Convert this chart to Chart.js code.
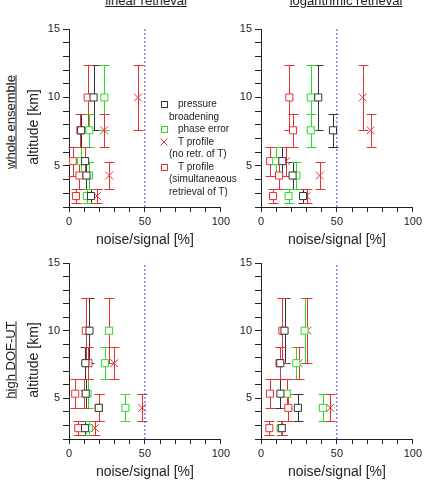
<!DOCTYPE html>
<html>
<head>
<meta charset="utf-8">
<script src="https://cdn.jsdelivr.net/npm/chart.js@4"></script>
<style>
  html, body { margin:0; padding:0; background:#fff; }
  body { width:431px; height:485px; position:relative; overflow:hidden;
         font-family:'Liberation Sans', Arial, sans-serif; color:#222; }
  canvas { position:absolute; }
  .t { position:absolute; white-space:nowrap; }
  .rot { position:absolute; white-space:nowrap; transform:translate(-50%,-50%) rotate(-90deg); }
  .u { text-decoration:underline; }
  .lg { position:absolute; font-size:10px; line-height:12px; white-space:nowrap; color:#222; }
  .mk { position:absolute; }
</style>
</head>
<body>
<canvas id="tl" width="209" height="234" style="left:24px;top:19px"></canvas>
<canvas id="tr" width="209" height="234" style="left:216px;top:19px"></canvas>
<canvas id="bl" width="209" height="232" style="left:24px;top:253px"></canvas>
<canvas id="br" width="209" height="232" style="left:216px;top:253px"></canvas>

<div class="t u" style="left:146px;top:-6px;font-size:13px;line-height:13px;transform:translateX(-50%)">linear retrieval</div>
<div class="t u" style="left:346px;top:-6px;font-size:13px;line-height:13px;transform:translateX(-50%)">logarithmic retrieval</div>

<div class="rot u" style="left:10px;top:122px;font-size:13px">whole ensemble</div>
<div class="rot" style="left:33px;top:127px;font-size:14px">altitude [km]</div>
<div class="rot u" style="left:10px;top:360px;font-size:13px">high DOF-UT</div>
<div class="rot" style="left:33px;top:360px;font-size:14px">altitude [km]</div>

<!-- legend -->
<svg class="mk" style="left:160px;top:100px" width="9" height="9"><rect x="1.5" y="1.5" width="6" height="6" fill="#fff" stroke="#333" stroke-width="1"/></svg>
<div class="lg" style="left:178px;top:98px">pressure</div>
<div class="lg" style="left:169px;top:111px">broadening</div>
<svg class="mk" style="left:160px;top:125px" width="9" height="9"><rect x="1.5" y="1.5" width="6" height="6" fill="#fff" stroke="rgb(40,220,40)" stroke-width="1"/></svg>
<div class="lg" style="left:178px;top:123px">phase error</div>
<svg class="mk" style="left:159px;top:137px" width="10" height="10"><path d="M1.5 1.5 L8.5 8.5 M8.5 1.5 L1.5 8.5" stroke="rgb(232,48,48)" stroke-width="1"/></svg>
<div class="lg" style="left:178px;top:136px">T profile</div>
<div class="lg" style="left:169px;top:148px">(no retr. of T)</div>
<svg class="mk" style="left:160px;top:163px" width="9" height="9"><rect x="1.5" y="1.5" width="6" height="6" fill="#fff" stroke="rgb(232,48,48)" stroke-width="1"/></svg>
<div class="lg" style="left:178px;top:161px">T profile</div>
<div class="lg" style="left:169px;top:173px">(simultaneaous</div>
<div class="lg" style="left:169px;top:186px">retrieval of T)</div>

<script>
// ---- data ----
const altitudes = [10, 7.6, 5.35, 4.3, 2.8];          // km, level centres
const altLow    = [7.6, 6.4, 4.3, 3.3, 2.3];          // lower end of vertical range
const altHigh   = [12.4, 8.8, 6.4, 5.3, 3.3];         // upper end of vertical range
const xTickLabels = [0, 50, 100];
const yTickLabels = [5, 10, 15];
const limitValue = 50;

// linear retrieval, whole ensemble
const linWholePressure = [16.2, 8.0, 10.6, 11.5, 14.5];
const linWholePhase    = [23.3, 13.4, 8.0, 13.2, 11.7];
const linWholeTnoRetr  = [45.4, 23.1, 10.4, 26.5, 18.4];
const linWholeTsimul   = [12.3, 7.5, 2.5, 6.9, 4.6];
// logarithmic retrieval, whole ensemble
const logWholePressure = [37.7, 47.4, 14.0, 20.8, 27.7];
const logWholePhase    = [32.8, 32.8, 10.0, 23.3, 18.2];
const logWholeTnoRetr  = [67.0, 72.2, 16.6, 38.7, 30.1];
const logWholeTsimul   = [18.7, 21.1, 6.0, 11.9, 7.9];
// linear retrieval, high DOF-UT
const linHighPressure = [13.5, 10.8, 11.0, 19.6, 10.6];
const linHighPhase    = [26.3, 23.7, 12.2, 37.2, 13.1];
const linHighTnoRetr  = [26.3, 29.8, 10.0, 48.2, 17.1];
const linHighTsimul   = [11.0, 12.8, 4.1, 19.6, 6.1];
// logarithmic retrieval, high DOF-UT
const logHighPressure = [15.5, 12.7, 12.8, 24.3, 13.7];
const logHighPhase    = [28.7, 23.3, 16.9, 40.8, 12.9];
const logHighTnoRetr  = [30.6, 24.7, 17.4, 45.6, 13.8];
const logHighTsimul   = [14.1, 12.2, 5.9, 18.0, 5.5];

// ---- styles ----
const BLACK = '#333333';
const GREEN = 'rgb(40,220,40)';
const RED   = 'rgb(232,48,48)';
const BLUE  = 'rgb(60,60,225)';
const AXIS  = '#222222';
Chart.defaults.font.family = "'Liberation Sans', Arial, sans-serif";
Chart.defaults.color = '#222';

const errorBars = {
  id: 'errorBars',
  beforeDatasetsDraw(chart) {
    const ctx = chart.ctx, xs = chart.scales.x, ys = chart.scales.y;
    chart.data.datasets.forEach(ds => {
      if (!ds.low) return;
      ctx.save();
      ctx.strokeStyle = ds.borderColor;
      ctx.lineWidth = 1;
      ds.data.forEach((p, i) => {
        const px = Math.round(xs.getPixelForValue(p.x)) + 0.5;
        const y1 = Math.round(ys.getPixelForValue(ds.low[i])) + 0.5;
        const y2 = Math.round(ys.getPixelForValue(ds.high[i])) + 0.5;
        ctx.beginPath();
        ctx.moveTo(px, y1); ctx.lineTo(px, y2);
        ctx.moveTo(px - 5, y1); ctx.lineTo(px + 5, y1);
        ctx.moveTo(px - 5, y2); ctx.lineTo(px + 5, y2);
        ctx.stroke();
      });
      ctx.restore();
    });
  }
};

function pts(vals) { return vals.map((v, i) => ({ x: v, y: altitudes[i] })); }

function makePanel(id, pressure, phase, tNoRetr, tSimul, xAxisHeight) {
  const series = (label, vals, color, style, r) => ({
    label, data: pts(vals), low: altLow, high: altHigh,
    borderColor: color, backgroundColor: '#fff', pointBackgroundColor: '#fff',
    pointBorderColor: color, pointStyle: style, pointRadius: r, pointBorderWidth: 1,
    showLine: false
  });
  new Chart(document.getElementById(id), {
    type: 'scatter',
    data: {
      datasets: [
        series('pressure broadening', pressure, BLACK, 'rect', 5),
        series('phase error', phase, GREEN, 'rect', 5),
        series('T profile (no retr. of T)', tNoRetr, RED, 'crossRot', 5.5),
        series('T profile (simultaneaous retrieval of T)', tSimul, RED, 'rect', 5),
        {
          type: 'line', label: 'limit', showLine: true,
          data: [{ x: limitValue, y: 2 }, { x: limitValue, y: 15 }],
          borderColor: BLUE, borderWidth: 1, borderDash: [2, 2], pointRadius: 0
        }
      ]
    },
    options: {
      responsive: false, animation: false, devicePixelRatio: 1,
      layout: { padding: { top: 10, right: 10, left: 0, bottom: 0 } },
      plugins: { legend: { display: false }, tooltip: { enabled: false } },
      scales: {
        x: {
          type: 'linear', min: 0, max: 100,
          ticks: { stepSize: 10, autoSkip: false, maxRotation: 0, padding: 3,
                   font: { size: 11 },
                   callback: v => xTickLabels.includes(v) ? String(v) : '' },
          grid: { drawOnChartArea: false, tickLength: 5, color: AXIS },
          border: { color: AXIS, width: 1 },
          title: { display: true, text: 'noise/signal [%]', font: { size: 14 },
                   padding: { top: 0, bottom: 4 } },
          afterFit(s) { s.height = xAxisHeight; }
        },
        y: {
          type: 'linear', min: 2, max: 15,
          ticks: { stepSize: 1, autoSkip: false, padding: 3, font: { size: 11 },
                   callback: v => yTickLabels.includes(v) ? String(v) : '' },
          grid: { drawOnChartArea: false, tickLength: 6, color: AXIS },
          border: { color: AXIS, width: 1 },
          afterFit(s) { s.width = 45; }
        }
      }
    },
    plugins: [errorBars]
  });
}

makePanel('tl', linWholePressure, linWholePhase, linWholeTnoRetr, linWholeTsimul, 46);
makePanel('tr', logWholePressure, logWholePhase, logWholeTnoRetr, logWholeTsimul, 46);
makePanel('bl', linHighPressure, linHighPhase, linHighTnoRetr, linHighTsimul, 46);
makePanel('br', logHighPressure, logHighPhase, logHighTnoRetr, logHighTsimul, 46);
</script>
</body>
</html>
